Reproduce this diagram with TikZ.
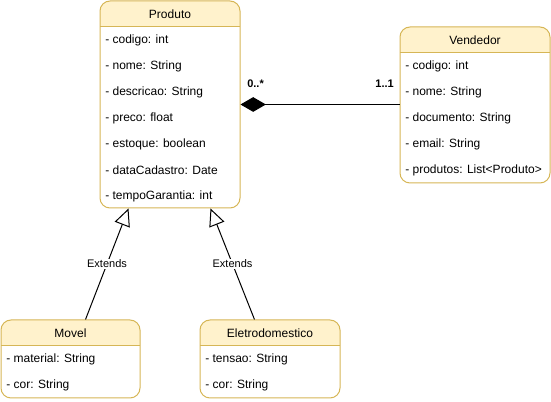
\documentclass[tikz,border=0pt]{standalone}
\usepackage{fontspec}
\setmainfont{Liberation Sans}
\usetikzlibrary{arrows.meta,fit,calc}
\definecolor{hdrfill}{HTML}{FFF2CC}
\definecolor{hdrline}{HTML}{D6B656}
\tikzset{
  classbox/.style={draw=hdrline, line width=0.75pt, rounded corners=7.5pt, inner sep=0pt},
  titletext/.style={font=\fontsize{9pt}{11pt}\selectfont, inner sep=0pt},
  rowtext/.style={font=\fontsize{9pt}{11pt}\selectfont, inner sep=0pt, anchor=west},
  conn/.style={draw=black, line width=0.75pt},
  lbl/.style={font=\fontsize{8.25pt}{10pt}\selectfont, fill=white, inner sep=1pt},
  mult/.style={font=\fontsize{8.25pt}{10pt}\selectfont\bfseries, inner sep=0pt},
  gentip/.style={-{Triangle[fill=white, length=13pt, width=12pt]}}
}
\newcommand\UmlClass[6]{%
  \begin{scope}
    \clip (#2,#3) rectangle (#4,#3+26);
    \fill[hdrfill, rounded corners=7.5pt] (#2,#3) rectangle (#4,#5);
  \end{scope}
  \node[classbox, fit={(#2,#3) (#4,#5)}] (#1) {};
  \draw[hdrline, line width=0.75pt] (#2,#3+26) -- (#4,#3+26);
  \node[titletext] (#1-title) at ({(#2+#4)/2},#3+13) {#6};
}
\newcommand\UmlRow[4]{\node[rowtext] (#1) at (#2+5,#3) {#4};}
\begin{document}
\begin{tikzpicture}[x=0.75pt, y=-0.75pt]
\useasboundingbox (0,0) rectangle (551,402);

% Produto
\UmlClass{produto}{100}{1}{240}{208}{Produto}
\UmlRow{p1}{100}{40}{- codigo: int}
\UmlRow{p2}{100}{66}{- nome: String}
\UmlRow{p3}{100}{92}{- descricao: String}
\UmlRow{p4}{100}{118}{- preco: float}
\UmlRow{p5}{100}{144}{- estoque: boolean}
\UmlRow{p6}{100}{170}{- dataCadastro: Date}
\UmlRow{p7}{100}{196}{- tempoGarantia: int}

% Vendedor
\UmlClass{vendedor}{400}{27}{550}{183}{Vendedor}
\UmlRow{v1}{400}{66}{- codigo: int}
\UmlRow{v2}{400}{92}{- nome: String}
\UmlRow{v3}{400}{118}{- documento: String}
\UmlRow{v4}{400}{144}{- email: String}
\UmlRow{v5}{400}{170}{- produtos: List<Produto>}

% Movel
\UmlClass{movel}{1}{320}{140}{398}{Movel}
\UmlRow{m1}{1}{359}{- material: String}
\UmlRow{m2}{1}{385}{- cor: String}

% Eletrodomestico
\UmlClass{eletro}{200}{320}{340}{398}{Eletrodomestico}
\UmlRow{e1}{200}{359}{- tensao: String}
\UmlRow{e2}{200}{385}{- cor: String}

% aggregation
\draw[conn, {Diamond[length=19pt, width=11pt]}-] (produto.east) -- (produto.east -| vendedor.west);
\node[mult, anchor=base west] (multA) at (247,88) {0..*};
\node[mult, anchor=base east] (multB) at (394,88) {1..1};

% generalisations
\coordinate (mtop) at ($(movel.north west)+(85,0)$);
\coordinate (ptip1) at ($(produto.south west)+(29,0)$);
\coordinate (etop) at ($(eletro.north west)+(55,0)$);
\coordinate (ptip2) at ($(produto.south west)+(111,0)$);
\draw[conn, gentip] (mtop) -- node[lbl] {Extends} (ptip1);
\draw[conn, gentip] (etop) -- node[lbl] {Extends} (ptip2);
\end{tikzpicture}
\end{document}
